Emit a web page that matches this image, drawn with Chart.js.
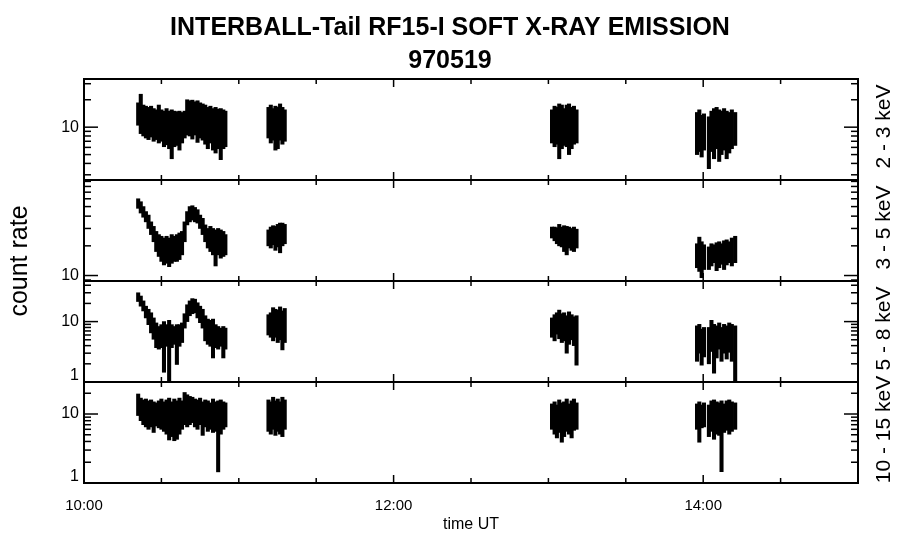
<!DOCTYPE html>
<html>
<head>
<meta charset="utf-8">
<script src="https://cdn.jsdelivr.net/npm/chart.js@4.4.1/dist/chart.umd.min.js"></script>
<style>
html,body{margin:0;padding:0;background:#fff;}
#wrap{width:900px;height:548px;position:relative;}
</style>
</head>
<body>
<div id="wrap"><canvas id="c" width="900" height="548"></canvas></div>
<script>
// ---------------- data ----------------
const titleLines = ['INTERBALL-Tail RF15-I SOFT X-RAY EMISSION', '970519'];
const panelLabels = ['2 - 3 keV', '3 - 5 keV', '5 - 8 keV', '10 - 15 keV'];
const yTitle = 'count rate';
const xTitle = 'time UT';
const xTickValues = [600, 720, 840];          // minutes of day (UT)
const xTickLabels = ['10:00', '12:00', '14:00'];

// sample times, minutes of day (UT)
const times = [
  621,622,623,624,625,626,627,628,629,630,631,632,633,634,635,636,637,638,639,640,
  641,642,643,644,645,646,647,648,649,650,651,652,653,654,654.8,
  671.5,672.4,673.3,674.2,675.1,676,676.9,677.8,
  781.4,782.4,783.3,784.2,785.2,786.1,787.1,788,789,789.9,790.9,
  837.6,838.5,839.4,840.3,
  842.2,843.2,844.2,845.2,846.2,847.1,848.1,849.1,850.1,851.1,852.4
];

// 2 - 3 keV : upper and lower envelope of the count rate
const hi_2_3 = [
  18.5,23,17.5,17,16.5,17,16,15.5,17.5,15.5,15,16,15,15.5,15,14.8,15,14.5,15,20,
  19.5,19.8,19,19.5,18.5,18,17.5,16.5,17,16,16.5,15.8,16,15.5,15,
  16.5,17.5,16,17,16.5,18,16.5,15.5,
  15.5,17,16.5,18,17.5,16,17.5,18,16.5,17,15.5,
  14.5,15.5,13.5,14,
  13,15,16,16.5,15.5,15,16,15,14.5,15.5,14.5
];
const lo_2_3 = [
  10.5,8.5,8,7.6,7.3,7.8,7,7.3,6.7,7,6.1,6.4,5.8,4.5,6.1,6.3,5.6,6.7,7.6,8.2,
  8,7.4,8.2,6.8,7.6,7.2,6.5,5.8,6.7,5.6,5.2,5.8,4.4,5.8,6.1,
  7.6,6.7,7.2,5.6,5.8,7.2,6.5,7,
  6.7,6.1,6.5,4.5,5.8,6.3,6.1,5,5.8,6.5,6.7,
  5,5.4,4.7,5.6,
  3.5,5.4,4.5,5.8,4.2,5,5.6,4.5,5.2,5.8,6.3
];

// 3 - 5 keV
const hi_3_5 = [
  60,56,50,44.5,41,35,31.5,28,26,25,24,25,24,26,25,26,27,28,35,44.5,
  50,51,49,46.5,41,38,32.6,30,31.5,30,29,30,29,28,26,
  29,31,32,31.5,33,34,34,33,
  31,31,30.5,33,31,32,31.5,31,30,31,29.5,
  21,24.5,22,20.5,
  19.5,21,20.5,21.5,22,21,22.5,23,22,24,25
];
const lo_3_5 = [
  48,43,39,35,30,26,22,17.5,15.6,13.9,12.8,13.3,12.3,13.3,13.9,13.9,14.5,16.2,22,32.6,
  35,36.5,35,34,30,26,22,19,17.5,16.2,12.5,16.2,15,15.6,16.2,
  20,19,20.5,18,19.5,17,20,21,
  24,22.5,21,20,19.5,17.5,16.2,19,18,17.5,19,
  12,11,9.5,11.5,
  11.5,12.5,13.5,11.2,12,13,11.5,12.8,13.5,12.5,13.5
];

// 5 - 8 keV
const hi_5_8 = [
  30,26.5,22,18,16,14,11.5,9.5,8.3,8.9,10,8.9,10.5,8.9,8.3,8.9,8.9,9.5,13.5,19,
  22,24,23.5,20.5,18,16,12.5,11,10.5,11,8.9,8.3,7.8,8.3,7.8,
  13,14,17,16,15.5,17.5,15,16.5,
  11.5,13,14,15.5,13.5,14,12.5,14.5,13,12,12.5,
  8.5,9,7.5,8,
  8,10.5,9,8.5,9.5,8,9,8.5,9.5,9,8.5
];
const lo_5_8 = [
  21.5,18,15,11.5,8.9,6.5,5.1,3.7,3.5,3.7,1.45,3.9,1.02,3.7,4.2,1.95,3.9,4.5,7.8,10,
  12.5,13.5,14,11.5,9.6,7.8,4.8,4.2,3.9,2.5,3.7,3.5,3.9,2.5,3.5,
  6,5.5,4.8,5.5,4.5,5,3.4,4.5,
  5.5,4.8,6.2,5.2,4.5,4.8,3.0,4.2,5,4,1.9,
  2.2,3,1.9,2.6,
  2,3.2,1.4,2.5,3.5,2.2,3,2.4,3.1,2.2,1.02
];

// 10 - 15 keV
const hi_10_15 = [
  19.5,17,16,16.5,15.5,16,15,14.5,15.5,16.5,15,16,17,15,16.5,15.5,17,15.5,20.5,19,
  18,17.5,16.5,16,17,15,16,15.5,14.5,16.5,15,15.5,16,15,14.5,
  16,15,17.5,15.5,16.5,15,17.5,16,
  14,15,13.5,16,14.5,15,16.5,14,15.5,16.5,14.5,
  14,15,13.5,14.5,
  13.5,15.5,16,15,14.5,15.5,14,15.5,16,15,14.5
];
const lo_10_15 = [
  9.5,8,7,6.5,6,6.5,5.4,6.7,6.3,6,5.6,5.1,4.2,4.7,4.1,4.3,5.1,6,7,6.5,
  7,7.5,6.5,6,7,4.9,6.5,5.6,6,5.4,5.6,1.45,5.1,6,6.5,
  5.6,5.1,6,4.9,5.6,5.1,4.7,6,
  6,5.1,4.5,5.4,3.9,4.7,5.6,5.1,4.5,5.8,6,
  6,3.9,6.3,6.5,
  4.7,5.6,4.3,5.1,4.9,1.46,5.4,5.8,5.1,5.6,6
];

// ---------------- chart construction ----------------
const FONT = 'Liberation Sans';
const panels = [
  {id:'p1', min:2.63, max:33.8, hi:hi_2_3,   lo:lo_2_3,   labels:[10]},
  {id:'p2', min:8.8,  max:93,   hi:hi_3_5,   lo:lo_3_5,   labels:[10]},
  {id:'p3', min:1,    max:47,   hi:hi_5_8,   lo:lo_5_8,   labels:[1,10]},
  {id:'p4', min:1,    max:29.1, hi:hi_10_15, lo:lo_10_15, labels:[1,10]}
];

function logTickValues(min, max) {
  const out = [];
  for (let e = -1; e <= 3; e++) {
    for (let m = 1; m <= 9; m++) {
      const v = m * Math.pow(10, e);
      if (v >= min * 0.999 && v <= max * 1.001) out.push({v, major: m === 1});
    }
  }
  return out;
}

const scales = {
  x: {
    type:'linear', min:600, max:900, position:'bottom', offset:false,
    grid:{display:false, drawTicks:false, offset:false}, border:{display:false},
    afterBuildTicks: s => { s.ticks = xTickValues.map(v => ({value:v})); },
    ticks:{
      autoSkip:false, maxRotation:0, color:'#000', padding:14,
      font:{family:FONT, size:15},
      callback: v => { const k = xTickValues.indexOf(v); return k >= 0 ? xTickLabels[k] : ''; }
    },
    title:{display:true, text:xTitle, color:'#000', font:{family:FONT, size:16}, padding:{top:0, bottom:14}},
    afterFit: s => { s.height = 65; }
  },
  rpad: {
    type:'linear', position:'right', display:true,
    grid:{display:false, drawTicks:false}, border:{display:false},
    ticks:{display:false},
    afterFit: s => { s.width = 42; }
  }
};
panels.forEach((p, i) => {
  scales[p.id] = {
    type:'logarithmic', position:'left', stack:'panels', stackWeight:1, weight: 4 - i,
    min:p.min, max:p.max,
    grid:{display:false, drawTicks:false}, border:{display:false},
    afterBuildTicks: s => { s.ticks = p.labels.map(v => ({value:v})); },
    ticks:{
      autoSkip:false, color:'#000', padding:5,
      font:{family:FONT, size:16, lineHeight:0.75},
      callback: v => (v === 1 ? ['1', ''] : String(v))
    },
    afterFit: s => { s.width = 84; }
  };
});

const datasets = panels.map(p => ({
  type:'bar',
  data: times.map((t, i) => ({x:t, y:[p.lo[i], p.hi[i]]})),
  yAxisID: p.id, xAxisID: 'x',
  backgroundColor:'#000', borderWidth:0,
  barThickness:3.4, grouped:false
}));

const framePlugin = {
  id:'frame',
  afterDraw(chart) {
    const ctx = chart.ctx, ca = chart.chartArea, xs = chart.scales.x;
    const line = (x1, y1, x2, y2) => { ctx.beginPath(); ctx.moveTo(x1, y1); ctx.lineTo(x2, y2); ctx.stroke(); };
    ctx.save();
    ctx.strokeStyle = '#000';
    panels.forEach((p, i) => {
      const s = chart.scales[p.id];
      const top = s.top, bot = s.bottom;
      ctx.lineWidth = 2;
      ctx.strokeRect(ca.left, top, ca.right - ca.left, bot - top);
      ctx.lineWidth = 1.5;
      for (let t = 600; t <= 900; t += 30) {
        const x = xs.getPixelForValue(t);
        const len = xTickValues.includes(t) ? 8 : 5;
        line(x, top, x, top + len);
        line(x, bot, x, bot - len);
      }
      logTickValues(p.min, p.max).forEach(tk => {
        const y = s.getPixelForValue(tk.v);
        const len = tk.major ? 14 : 7;
        line(ca.left, y, ca.left + len, y);
        line(ca.right, y, ca.right - len, y);
      });
      ctx.save();
      ctx.fillStyle = '#000';
      ctx.translate(890, (top + bot) / 2 - 3);
      ctx.rotate(-Math.PI / 2);
      ctx.font = '21px "' + FONT + '"';
      ctx.textAlign = 'center';
      ctx.textBaseline = 'alphabetic';
      ctx.fillText(panelLabels[i], 0, 0);
      ctx.restore();
    });
    ctx.save();
    ctx.fillStyle = '#000';
    ctx.translate(27, 261);
    ctx.rotate(-Math.PI / 2);
    ctx.font = '25px "' + FONT + '"';
    ctx.textAlign = 'center';
    ctx.textBaseline = 'alphabetic';
    ctx.fillText(yTitle, 0, 0);
    ctx.restore();
    ctx.restore();
  }
};

new Chart(document.getElementById('c'), {
  type:'bar',
  data:{datasets},
  options:{
    responsive:false, animation:false,
    layout:{padding:{left:0, right:0, top:0, bottom:0}},
    plugins:{
      legend:{display:false}, tooltip:{enabled:false},
      title:{
        display:true, text:titleLines, color:'#000',
        font:{family:FONT, size:25, weight:'bold', lineHeight:'33.5px'},
        padding:{top:11, bottom:1}
      }
    },
    scales
  },
  plugins:[framePlugin]
});
</script>
</body>
</html>
